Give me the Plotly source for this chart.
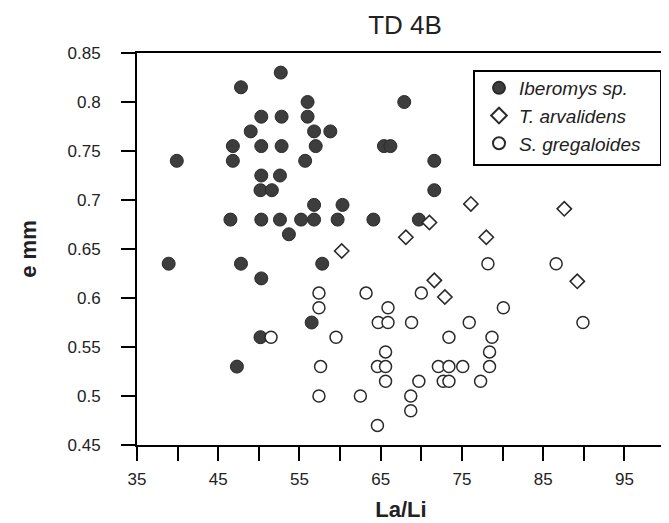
import plotly.graph_objects as go

# ---- data ----
ibero_x = [38.9, 39.9, 46.8, 46.8, 46.5, 47.8, 47.8, 47.3, 49.0, 50.3, 50.3, 50.3, 50.2, 51.6,
           50.3, 50.3, 50.2, 52.7, 52.8, 52.8, 52.6, 52.6, 53.7, 56.0, 56.0, 55.7, 56.8, 57.0,
           55.2, 56.8, 56.8, 58.8, 57.8, 56.5, 59.7, 60.3, 64.1, 65.4, 66.2, 67.9, 69.7, 71.6, 71.6]
ibero_y = [0.635, 0.74, 0.755, 0.74, 0.68, 0.815, 0.635, 0.53, 0.77, 0.785, 0.755, 0.725, 0.71, 0.71,
           0.68, 0.62, 0.56, 0.83, 0.785, 0.755, 0.725, 0.68, 0.665, 0.80, 0.785, 0.74, 0.77, 0.755,
           0.68, 0.695, 0.68, 0.77, 0.635, 0.575, 0.68, 0.695, 0.68, 0.755, 0.755, 0.80, 0.68, 0.74, 0.71]

arv_x = [60.2, 68.1, 71.0, 71.6, 72.9, 76.1, 78.0, 87.6, 89.2]
arv_y = [0.648, 0.662, 0.677, 0.618, 0.601, 0.696, 0.662, 0.691, 0.617]

greg_x = [51.5, 57.4, 57.4, 57.6, 57.4, 59.5, 62.5, 63.2, 64.7, 65.9, 65.9, 65.6, 64.6, 65.6,
          65.6, 64.6, 68.8, 70.0, 69.7, 68.7, 68.7, 72.1, 73.4, 73.4, 72.7, 73.4, 75.1, 75.9,
          77.3, 78.2, 78.7, 78.4, 78.4, 80.1, 86.6, 89.9]
greg_y = [0.56, 0.605, 0.59, 0.53, 0.50, 0.56, 0.50, 0.605, 0.575, 0.59, 0.575, 0.545, 0.53, 0.53,
          0.515, 0.47, 0.575, 0.605, 0.515, 0.50, 0.485, 0.53, 0.53, 0.56, 0.515, 0.515, 0.53, 0.575,
          0.515, 0.635, 0.56, 0.545, 0.53, 0.59, 0.635, 0.575]

x_tickvals = [35, 45, 55, 65, 75, 85, 95]
x_ticktext = ["35", "45", "55", "65", "75", "85", "95"]
y_tickvals = [0.45, 0.5, 0.55, 0.6, 0.65, 0.7, 0.75, 0.8, 0.85]
y_ticktext = ["0.45", "0.5", "0.55", "0.6", "0.65", "0.7", "0.75", "0.8", "0.85"]

FONT = "Liberation Sans, Arial, sans-serif"

fig = go.Figure()
fig.add_trace(go.Scatter(
    x=ibero_x, y=ibero_y, mode="markers", name="Iberomys sp.", legendgroup="a",
    marker=dict(symbol="circle", size=13, color="#3d3d3d", line=dict(color="#2a2a2a", width=1))))
fig.add_trace(go.Scatter(
    x=arv_x, y=arv_y, mode="markers", name="T. arvalidens", legendgroup="b",
    marker=dict(symbol="diamond", size=11, color="white", line=dict(color="#2a2a2a", width=1.6))))
fig.add_trace(go.Scatter(
    x=greg_x, y=greg_y, mode="markers", name="S. gregaloides", legendgroup="c",
    marker=dict(symbol="circle", size=12, color="white", line=dict(color="#2a2a2a", width=1.5))))

L, R, T, B = 129, 12, 45, 86
W, H = 669, 523
pw = W - L - R
ph = H - T - B

def px_x(p):
    return (p - L) / pw

def px_y(p):
    return 1 - (p - T) / ph

fig.add_shape(type="rect", xref="paper", yref="paper",
              x0=px_x(466), x1=px_x(653), y0=px_y(157), y1=px_y(63),
              line=dict(color="black", width=2), fillcolor="white", layer="above")

fig.update_layout(
    width=W, height=H,
    margin=dict(l=L, r=R, t=T, b=B, autoexpand=False),
    paper_bgcolor="white", plot_bgcolor="white",
    font=dict(family=FONT, color="#222"),
    title=dict(text="TD 4B", xref="paper", x=px_x(397), xanchor="center",
               yref="container", y=1 - 17 / H, yanchor="middle", automargin=False,
               font=dict(size=26, color="#222")),
    showlegend=True,
    legend=dict(x=px_x(471), y=px_y(61), xanchor="left", yanchor="top",
                bgcolor="rgba(0,0,0,0)", borderwidth=0,
                font=dict(size=19, style="italic", color="#222"),
                itemsizing="constant", tracegroupgap=0),
    xaxis=dict(range=[35, 100], tickvals=x_tickvals, ticktext=x_ticktext, automargin=False,
               ticks="outside", ticklen=14, tickwidth=1.5, tickcolor="black",
               minor=dict(ticks="outside", ticklen=14, tickwidth=1.5, tickcolor="black",
                          dtick=5, tick0=35),
               showline=True, linecolor="black", linewidth=2, mirror=True,
               showgrid=False, zeroline=False,
               tickfont=dict(size=17, color="#222"), ticklabelstandoff=4,
               title=dict(text="<b>La/Li</b>", font=dict(size=22, color="#222"), standoff=13)),
    yaxis=dict(range=[0.45, 0.85], tickvals=y_tickvals, ticktext=y_ticktext, automargin=False,
               ticks="outside", ticklen=14, tickwidth=1.5, tickcolor="black",
               showline=True, linecolor="black", linewidth=2, mirror=True,
               showgrid=False, zeroline=False,
               tickfont=dict(size=17, color="#222"), ticklabelstandoff=17,
               title=dict(text="<b>e mm</b>", font=dict(size=22, color="#222"), standoff=25)),
)

fig.write_html("out.html")
